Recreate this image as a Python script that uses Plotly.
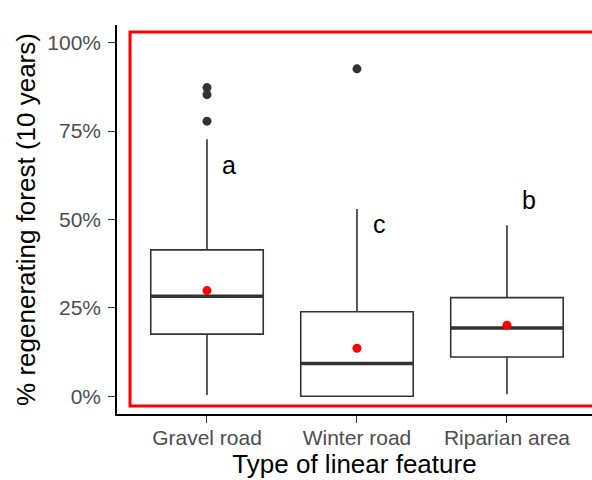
import plotly.graph_objects as go

# ---- data ----
categories = ["Gravel road", "Winter road", "Riparian area"]
q1 = [0.176, 0.0, 0.111]
median = [0.283, 0.093, 0.193]
q3 = [0.414, 0.239, 0.279]
lower_whisker = [0.004, 0.0, 0.006]
upper_whisker = [0.727, 0.530, 0.484]
means = [0.299, 0.136, 0.201]
outlier_cat = ["Gravel road", "Gravel road", "Gravel road", "Winter road"]
outlier_val = [0.778, 0.853, 0.873, 0.926]
letters = ["a", "c", "b"]
letter_y = [0.653, 0.486, 0.556]
y_tickvals = [0, 0.25, 0.5, 0.75, 1.0]
y_ticktext = ["0%", "25%", "50%", "75%", "100%"]

FONT = "Arial, 'Liberation Sans', sans-serif"
DARK = "#333333"

fig = go.Figure()

for i, c in enumerate(categories):
    fig.add_trace(go.Box(
        x=[c], q1=[q1[i]], median=[median[i]], q3=[q3[i]],
        lowerfence=[lower_whisker[i]], upperfence=[upper_whisker[i]],
        width=0.75, whiskerwidth=0, fillcolor="white",
        line=dict(color=DARK, width=1.6), boxpoints=False,
        showlegend=False, hoverinfo="skip",
    ))

# thicker median lines
fig.add_trace(go.Scatter(
    x=categories, y=median, mode="markers",
    marker=dict(symbol="line-ew", size=80, color=DARK,
                line=dict(color=DARK, width=3.5)),
    showlegend=False, hoverinfo="skip",
))

# means
fig.add_trace(go.Scatter(
    x=categories, y=means, mode="markers",
    marker=dict(color="red", size=9),
    showlegend=False, hoverinfo="skip",
))

# outliers
fig.add_trace(go.Scatter(
    x=outlier_cat, y=outlier_val, mode="markers",
    marker=dict(color=DARK, size=9),
    showlegend=False, hoverinfo="skip",
))

for i, (lab, ly) in enumerate(zip(letters, letter_y)):
    fig.add_annotation(x=i + 0.15, y=ly, text=lab, showarrow=False,
                       font=dict(family=FONT, size=25, color="black"),
                       xref="x", yref="y")

fig.add_shape(type="rect", xref="paper", yref="paper",
              x0=0.0274, x1=1.05, y0=0.0206, y1=0.982,
              line=dict(color="red", width=3), layer="above")

fig.update_layout(
    width=592, height=480,
    margin=dict(l=117, r=0, t=25, b=66, autoexpand=False),
    plot_bgcolor="white", paper_bgcolor="white",
    font=dict(family=FONT),
)
fig.update_xaxes(
    type="category", categoryorder="array", categoryarray=categories,
    range=[-0.6, 2.567], automargin=False,
    showline=True, linecolor="black", linewidth=1.5,
    ticks="outside", ticklen=7, tickcolor=DARK, tickwidth=1.3,
    tickfont=dict(family=FONT, size=21, color="#4D4D4D"),
    ticklabelstandoff=-3,
    title=dict(text="Type of linear feature",
               font=dict(family=FONT, size=26, color="black"), standoff=2),
    showgrid=False, zeroline=False,
)
fig.update_yaxes(
    range=[-0.05, 1.05], tickvals=y_tickvals, ticktext=y_ticktext,
    automargin=False,
    showline=True, linecolor="black", linewidth=1.5,
    ticks="outside", ticklen=7, tickcolor=DARK, tickwidth=1.3,
    tickfont=dict(family=FONT, size=21, color="#4D4D4D"),
    ticklabelstandoff=3,
    title=dict(text="% regenerating forest (10 years)",
               font=dict(family=FONT, size=26, color="black"), standoff=4),
    showgrid=False, zeroline=False,
)

fig.write_html("out.html", config={"displayModeBar": False},
               post_script="document.body.style.margin='0';")
